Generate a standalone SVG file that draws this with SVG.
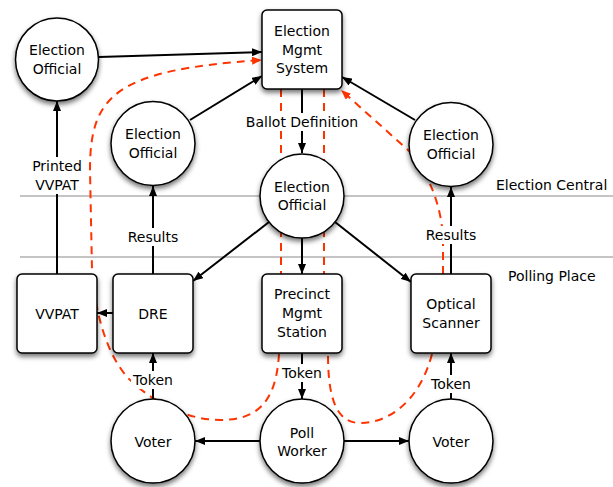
<svg xmlns="http://www.w3.org/2000/svg" width="613" height="487" viewBox="0 0 613 487">
<style>
text{font-family:"DejaVu Sans","Liberation Sans",sans-serif;font-size:14px;fill:#000;text-anchor:middle}
.zone{stroke:#c4c4c4;stroke-width:2;fill:none}
.zl{text-anchor:start}
.node{fill:#fff;stroke:#000;stroke-width:1.5;filter:url(#sh)}
.c{stroke:#000;stroke-width:2;fill:none;marker-end:url(#ah)}
.r{stroke:#ff3300;stroke-width:2;fill:none;stroke-dasharray:8 6}
.ra{marker-end:url(#rah)}
.lb{fill:#fff}
</style>
<defs>
<filter id="sh" x="-30%" y="-30%" width="160%" height="160%">
<feDropShadow dx="0" dy="3" stdDeviation="2.5" flood-color="#000" flood-opacity="0.55"/>
</filter>
<marker id="ah" viewBox="0 0 10 8" refX="10" refY="4" markerWidth="10" markerHeight="8" markerUnits="userSpaceOnUse" orient="auto">
<path d="M0 0L10 4L0 8z" fill="#000"/>
</marker>
<marker id="rah" viewBox="0 0 10 8" refX="10" refY="4" markerWidth="10" markerHeight="8" markerUnits="userSpaceOnUse" orient="auto">
<path d="M0 0L10 4L0 8z" fill="#ff3300"/>
</marker>
</defs>
<g id="zones">
<line class="zone" x1="20" y1="196" x2="613" y2="196"/>
<line class="zone" x1="20" y1="257" x2="613" y2="257"/>
<text class="zl" x="496" y="190">Election Central</text>
<text class="zl" x="508" y="281">Polling Place</text>
</g>
<g id="paper-trail">
<path class="r ra" d="M279 354C276 405 255 420 220 420C185 420 150 400 128 378C105 352 95 310 92 270L90 170C90 95 115 70 262 60"/>
<path class="r" d="M281 89V274"/>
<path class="r" d="M324 89V274"/>
<path class="r ra" d="M443 274V238C441 200 425 168 408 150L341 90"/>
<path class="r" d="M432 354C420 400 390 423 360 423C335 423 328 395 328 354"/>
</g>
<g id="connectors">
<path class="c" d="M99 57L262 52"/>
<path class="c" d="M190 120L262 76"/>
<path class="c" d="M415 120L342 77"/>
<path class="c" d="M302 89V153"/>
<path class="c" d="M269 222L193 281"/>
<path class="c" d="M302 238V274"/>
<path class="c" d="M335 222L411 282"/>
<path class="c" d="M57 274V101"/>
<path class="c" d="M153 274V186"/>
<path class="c" d="M451 274V187"/>
<path class="c" d="M113 313H97"/>
<path class="c" d="M153 399V353"/>
<path class="c" d="M302 353V399"/>
<path class="c" d="M451 399V353"/>
<path class="c" d="M260 441H195"/>
<path class="c" d="M344 441H409"/>
<rect class="lb" x="242" y="113" width="120" height="18"/>
<text x="302" y="127">Ballot Definition</text>
<rect class="lb" x="30" y="157" width="54" height="37"/>
<text x="57" y="171">Printed</text>
<text x="57" y="190">VVPAT</text>
<rect class="lb" x="126" y="228" width="54" height="18"/>
<text x="153" y="242">Results</text>
<rect class="lb" x="424" y="226" width="54" height="18"/>
<text x="451" y="240">Results</text>
<rect class="lb" x="131" y="371" width="44" height="18"/>
<text x="153" y="385">Token</text>
<rect class="lb" x="280" y="364" width="44" height="18"/>
<text x="302" y="378">Token</text>
<rect class="lb" x="429" y="375" width="44" height="18"/>
<text x="451" y="389">Token</text>
</g>
<g id="ems">
<rect class="node" x="262" y="10" width="80" height="79" rx="5"/>
<text x="302" y="36">Election</text>
<text x="302" y="54.5">Mgmt</text>
<text x="302" y="73">System</text>
</g>
<g id="official-1">
<circle class="node" cx="57" cy="59.5" r="41.5"/>
<text x="57" y="55">Election</text>
<text x="57" y="74">Official</text>
</g>
<g id="official-2">
<circle class="node" cx="153" cy="143.5" r="42"/>
<text x="153" y="139">Election</text>
<text x="153" y="158">Official</text>
</g>
<g id="official-3">
<circle class="node" cx="302" cy="196" r="42"/>
<text x="302" y="192">Election</text>
<text x="302" y="210">Official</text>
</g>
<g id="official-4">
<circle class="node" cx="451" cy="144.5" r="42"/>
<text x="451" y="140">Election</text>
<text x="451" y="159">Official</text>
</g>
<g id="vvpat">
<rect class="node" x="17" y="274" width="80" height="79" rx="5"/>
<text x="57" y="319">VVPAT</text>
</g>
<g id="dre">
<rect class="node" x="113" y="274" width="80" height="79" rx="5"/>
<text x="153" y="319">DRE</text>
</g>
<g id="precinct">
<rect class="node" x="262" y="274" width="80" height="79" rx="5"/>
<text x="302" y="299">Precinct</text>
<text x="302" y="318">Mgmt</text>
<text x="302" y="337">Station</text>
</g>
<g id="scanner">
<rect class="node" x="411" y="274" width="80" height="79" rx="5"/>
<text x="451" y="309">Optical</text>
<text x="451" y="328">Scanner</text>
</g>
<g id="voter-1">
<circle class="node" cx="153" cy="441" r="42"/>
<text x="153" y="447">Voter</text>
</g>
<g id="poll-worker">
<circle class="node" cx="302" cy="441" r="42"/>
<text x="302" y="438">Poll</text>
<text x="302" y="456">Worker</text>
</g>
<g id="voter-2">
<circle class="node" cx="451" cy="441" r="42"/>
<text x="451" y="447">Voter</text>
</g>
</svg>
